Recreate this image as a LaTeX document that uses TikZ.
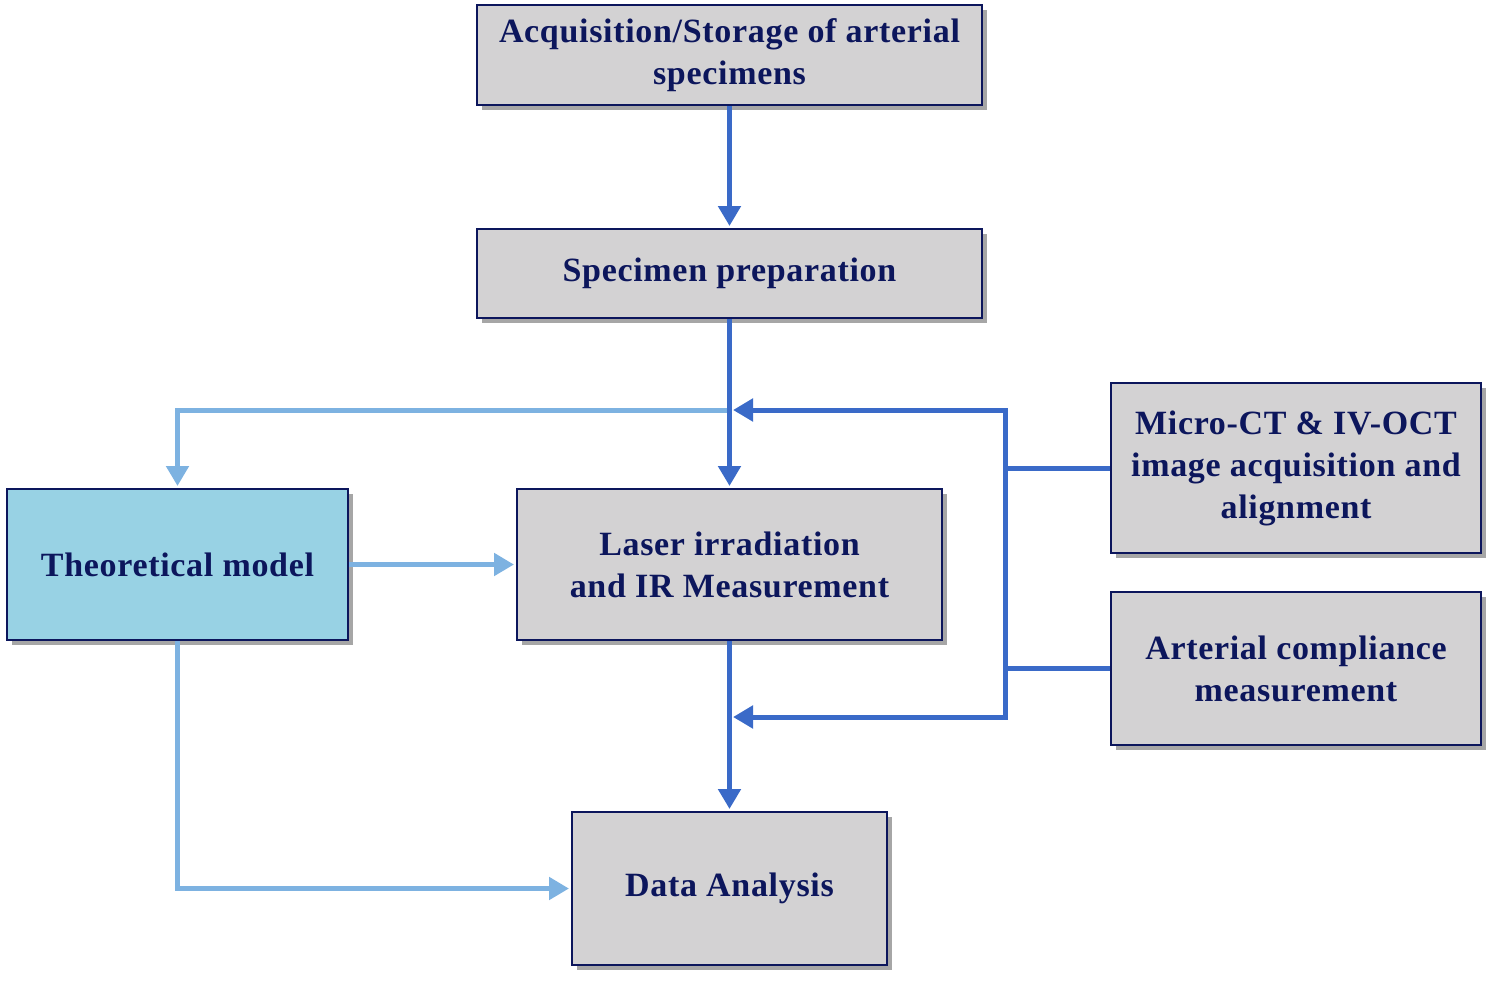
\documentclass[tikz,border=0pt]{standalone}
\usepackage{fontspec}
\setmainfont{Liberation Serif}[LetterSpace=2]
\usetikzlibrary{arrows.meta,shadows}
\definecolor{navy}{RGB}{12,22,92}
\definecolor{boxgray}{RGB}{211,210,211}
\definecolor{boxblue}{RGB}{152,210,228}
\definecolor{dkarrow}{RGB}{58,106,200}
\definecolor{ltarrow}{RGB}{125,178,225}
\tikzset{
  flowbox/.style={draw=navy, line width=2pt, fill=boxgray, align=center,
    text=navy, font=\fontsize{34}{42}\selectfont\bfseries, inner sep=0pt,
    drop shadow={shadow xshift=5pt, shadow yshift=-5pt, fill=black, opacity=0.35}},
  dk/.style={draw=dkarrow, line width=5pt, line join=miter,
    -{Triangle[width=22pt,length=20pt]}, shorten >=2pt},
  lt/.style={draw=ltarrow, line width=5pt, line join=miter,
    -{Triangle[width=22pt,length=20pt]}, shorten >=2pt},
  plaindk/.style={draw=dkarrow, line width=5pt, line join=miter}
}
\begin{document}
\begin{tikzpicture}[x=1pt,y=-1pt]
\useasboundingbox (0,0) rectangle (1499,983);
\node[flowbox, minimum width=505pt, minimum height=100pt] (A) at (729.5,55) {Acquisition/Storage of arterial\\specimens};
\node[flowbox, minimum width=505pt, minimum height=89pt] (S) at (729.5,273.5) {Specimen preparation};
\node[flowbox, minimum width=425pt, minimum height=151pt] (L) at (729.5,564.5) {Laser irradiation\\and IR Measurement};
\node[flowbox, fill=boxblue, minimum width=341pt, minimum height=151pt] (T) at (177.5,564.5) {Theoretical model};
\node[flowbox, minimum width=370pt, minimum height=170pt] (M) at (1296,468) {Micro-CT \& IV-OCT\\image acquisition and\\alignment};
\node[flowbox, minimum width=370pt, minimum height=153pt] (C) at (1296,668.5) {Arterial compliance\\measurement};
\node[flowbox, minimum width=315pt, minimum height=153pt] (D) at (729.5,888.5) {Data Analysis};
% coordinates
\coordinate (lstart) at (727,410);
\coordinate (ja) at (731,410);
\coordinate (jb) at (731,717);
\coordinate (ba) at (1005,410);
\coordinate (bb) at (1005,717);
% light blue connectors
\draw[lt] (lstart) -| (T.north);
\draw[lt] (T.east) -- (L.west);
\draw[lt] (T.south) |- (D.west);
% dark blue connectors
\draw[dk] (A.south) -- (S.north);
\draw[dk] (S.south) -- (L.north);
\draw[dk] (L.south) -- (D.north);
\draw[plaindk] (M.west) -- (M.west -| ba);
\draw[plaindk] (C.west) -- (C.west -| ba);
\draw[dk] (bb) -- (ba) -- (ja);
\draw[dk] (ba) -- (bb) -- (jb);
\end{tikzpicture}
\end{document}
